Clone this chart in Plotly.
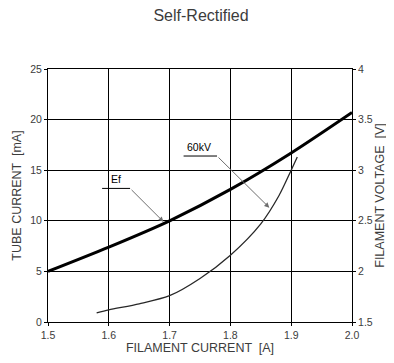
import plotly.graph_objects as go

# Ef curve: filament voltage vs filament current (right axis)
ef_current = [1.5, 1.6, 1.7, 1.8, 1.9, 2.0]
ef_voltage = [2.0, 2.24, 2.5, 2.81, 3.17, 3.57]

# 60kV curve: tube current vs filament current (left axis)
kv60_current = [1.58, 1.6, 1.65, 1.7, 1.75, 1.8, 1.85, 1.88, 1.9, 1.91]
kv60_tube = [0.9, 1.2, 1.8, 2.6, 4.3, 6.6, 9.7, 12.5, 15.0, 16.3]

x_ticks = [1.5, 1.6, 1.7, 1.8, 1.9, 2.0]
y_ticks = [0, 5, 10, 15, 20, 25]
y2_ticks = [1.5, 2, 2.5, 3, 3.5, 4]

font = "Liberation Sans, Arial"
grey = "rgb(60, 60, 60)"

fig = go.Figure()
fig.add_trace(
    go.Scatter(
        x=kv60_current,
        y=kv60_tube,
        mode="lines",
        line=dict(color="rgb(40, 40, 40)", width=1.3, shape="spline", smoothing=0.8),
        showlegend=False,
        hoverinfo="skip",
    )
)
fig.add_trace(
    go.Scatter(
        x=ef_current,
        y=ef_voltage,
        yaxis="y2",
        mode="lines",
        line=dict(color="black", width=3, shape="spline", smoothing=0.8),
        showlegend=False,
        hoverinfo="skip",
    )
)

axis_common = dict(
    showline=True,
    linecolor="black",
    linewidth=1,
    showgrid=True,
    gridcolor="black",
    gridwidth=1,
    zeroline=False,
    ticks="outside",
    ticklen=3,
    tickcolor="black",
    automargin=False,
    tickfont=dict(family=font, size=10.5, color=grey),
)

# page has an 8px body margin, so the figure is sized to fit inside the window
fig.update_layout(
    width=386,
    height=355,
    autosize=False,
    paper_bgcolor="white",
    plot_bgcolor="white",
    margin=dict(l=40, r=42, t=61, b=41),
    title=dict(
        text="Self-Rectified",
        x=0.5,
        xanchor="center",
        y=0.98,
        yanchor="middle",
        font=dict(family=font, size=16, color=grey),
    ),
    xaxis=dict(
        axis_common,
        range=[1.5, 2.0],
        tickvals=x_ticks,
        tickformat=".1f",
        mirror=True,
        title=dict(text="FILAMENT CURRENT  [A]", standoff=3, font=dict(family=font, size=12.5, color=grey)),
    ),
    yaxis=dict(
        axis_common,
        range=[0, 25],
        tickvals=y_ticks,
        title=dict(text="TUBE CURRENT  [mA]", standoff=5, font=dict(family=font, size=12.5, color=grey)),
    ),
    yaxis2=dict(
        axis_common,
        overlaying="y",
        side="right",
        range=[1.5, 4],
        tickvals=y2_ticks,
        showgrid=False,
        title=dict(text="FILAMENT VOLTAGE  [V]", standoff=2, font=dict(family=font, size=12.5, color=grey)),
    ),
)

# leader lines for the curve labels
fig.add_shape(type="line", x0=1.589, x1=1.635, y0=13.2, y1=13.2, line=dict(color="black", width=1))
fig.add_shape(type="line", x0=1.723, x1=1.778, y0=16.4, y1=16.4, line=dict(color="black", width=1))

fig.add_annotation(
    x=1.6, y=13.3, text="Ef", showarrow=False, xanchor="left", yanchor="bottom",
    font=dict(family=font, size=10.5, color="black"),
)
fig.add_annotation(
    x=1.726, y=16.5, text="60kV", showarrow=False, xanchor="left", yanchor="bottom",
    font=dict(family=font, size=10.5, color="black"),
)
fig.add_annotation(
    x=1.69, y=9.9, ax=1.635, ay=13.2, axref="x", ayref="y", text="",
    showarrow=True, arrowhead=2, arrowsize=1, arrowwidth=1, arrowcolor="rgb(110, 110, 110)",
)
fig.add_annotation(
    x=1.864, y=11.3, ax=1.778, ay=16.4, axref="x", ayref="y", text="",
    showarrow=True, arrowhead=2, arrowsize=1, arrowwidth=1, arrowcolor="rgb(110, 110, 110)",
)

fig.write_html("out.html")
